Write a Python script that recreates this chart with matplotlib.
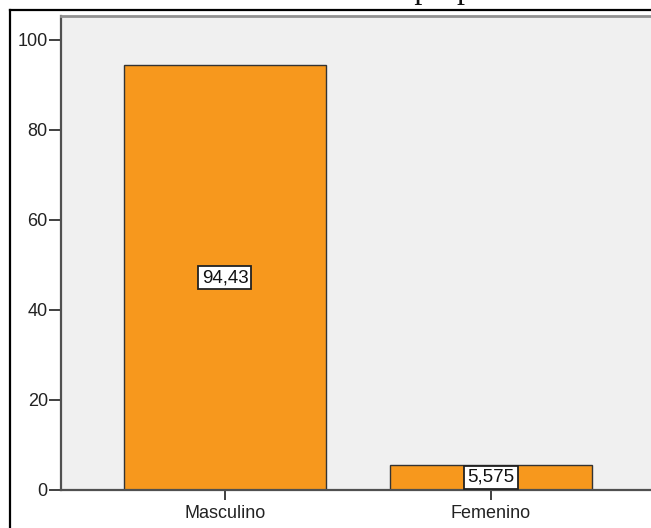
import matplotlib
matplotlib.use("Agg")
import matplotlib.pyplot as plt
from matplotlib.lines import Line2D

categories = ["Masculino", "Femenino"]
values = [94.43, 5.575]
value_labels = ["94,43", "5,575"]
yticks = [0, 20, 40, 60, 80, 100]
title_text = "Fuente: elaboración propia"

W, H = 651, 528
fig = plt.figure(figsize=(W / 100, H / 100), dpi=100)
fig.patch.set_facecolor("white")

def fx(px):
    return px / W

def fy(py):
    return 1 - py / H

left, right, top, bottom = 61, 655, 16, 490
ax = fig.add_axes([fx(left), fy(bottom), fx(right) - fx(left), fy(top) - fy(bottom)])
ax.set_facecolor("#F0F0F0")

x = list(range(len(categories)))
ax.bar(x, values, width=0.756, color="#F7981D", edgecolor="#333333", linewidth=1.0, zorder=2)
ax.set_xlim(-0.6165, 1.6165)
ax.set_ylim(0, 105.33)
ax.set_yticks(yticks)
ax.set_yticklabels([str(t) for t in yticks])
ax.set_xticks(x)
ax.set_xticklabels(categories)

for s in ["left", "bottom"]:
    ax.spines[s].set_color("#505050")
    ax.spines[s].set_linewidth(1.6)
ax.spines["top"].set_color("#909090")
ax.spines["top"].set_linewidth(2.0)
ax.spines["right"].set_visible(False)

ax.tick_params(axis="y", direction="out", length=9, width=1.4, color="#404040",
               labelsize=13, labelcolor="#222222", pad=0.5)
ax.tick_params(axis="x", direction="out", length=7.5, width=1.4, color="#404040",
               labelsize=13, labelcolor="#222222", pad=3.5)
for lbl in ax.get_xticklabels() + ax.get_yticklabels():
    lbl.set_fontfamily("Liberation Sans")

for xi, v, s in zip(x, values, value_labels):
    ax.text(xi, v / 2, s, ha="center", va="center", fontsize=13.5, color="#111111",
            family="Liberation Sans", zorder=5,
            bbox=dict(boxstyle="square,pad=0.17", facecolor="white", edgecolor="#222222", linewidth=1.3))

# outer frame lines (cropped border)
fig.add_artist(Line2D([fx(10), fx(10)], [fy(10), 0], transform=fig.transFigure, color="black", linewidth=1.6))
fig.add_artist(Line2D([fx(10), 1], [fy(10), fy(10)], transform=fig.transFigure, color="black", linewidth=1.6))

# cut-off title at top
fig.text(fx(325), fy(-2), title_text, ha="center", va="baseline", fontsize=23,
         family="Liberation Serif", color="#111111")

fig.savefig("out.png", dpi=100)
